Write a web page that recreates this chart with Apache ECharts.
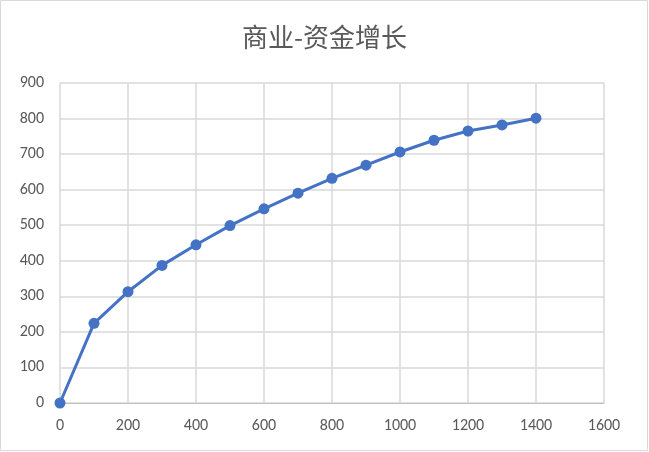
<!DOCTYPE html>
<html><head><meta charset="utf-8">
<script src="https://cdn.jsdelivr.net/npm/echarts@6/dist/echarts.min.js"></script>
<style>html,body{margin:0;padding:0;background:#fff}#c{width:649px;height:452px}</style>
</head><body><div id="c"></div>
<script>
const xValues = [0,100,200,300,400,500,600,700,800,900,1000,1100,1200,1300,1400];
const yValues = [0,224,313,387,445,499,546,590,632,669,706,739,765,782,801];
const title = '商业-资金增长';
const chart = echarts.init(document.getElementById('c'));
const font = 'Calibri, "Liberation Sans", "Noto Sans CJK SC", sans-serif';
chart.setOption({
  animation:false,
  graphic:[{type:'rect',shape:{x:0.5,y:0.5,width:647,height:450},style:{fill:'none',stroke:'#d9d9d9',lineWidth:1},silent:true,z:100}],
  title:{text:title,left:'center',top:19,textStyle:{fontSize:26,fontWeight:'normal',color:'#595959',fontFamily:'"Noto Sans CJK SC", sans-serif'}},
  grid:{left:60,right:45,top:83,bottom:49,containLabel:false},
  xAxis:{type:'value',min:0,max:1600,interval:200,
    axisLine:{show:true,lineStyle:{color:'#bfbfbf',width:1}},
    axisTick:{show:false},
    axisLabel:{color:'#595959',fontSize:16,margin:15,fontFamily:font,formatter:v=>String(v)},
    splitLine:{show:true,lineStyle:{color:'#d9d9d9',width:1.5}}},
  yAxis:{type:'value',min:0,max:900,interval:100,
    axisLine:{show:false},axisTick:{show:false},
    axisLabel:{color:'#595959',fontSize:16,margin:16,fontFamily:font,formatter:v=>String(v)},
    splitLine:{show:true,lineStyle:{color:'#d9d9d9',width:1.5}}},
  series:[{type:'line',data:xValues.map((x,i)=>[x,yValues[i]]),
    symbol:'circle',symbolSize:11,
    lineStyle:{color:'#4472C4',width:3},
    itemStyle:{color:'#4472C4'}}]
});
</script></body></html>
